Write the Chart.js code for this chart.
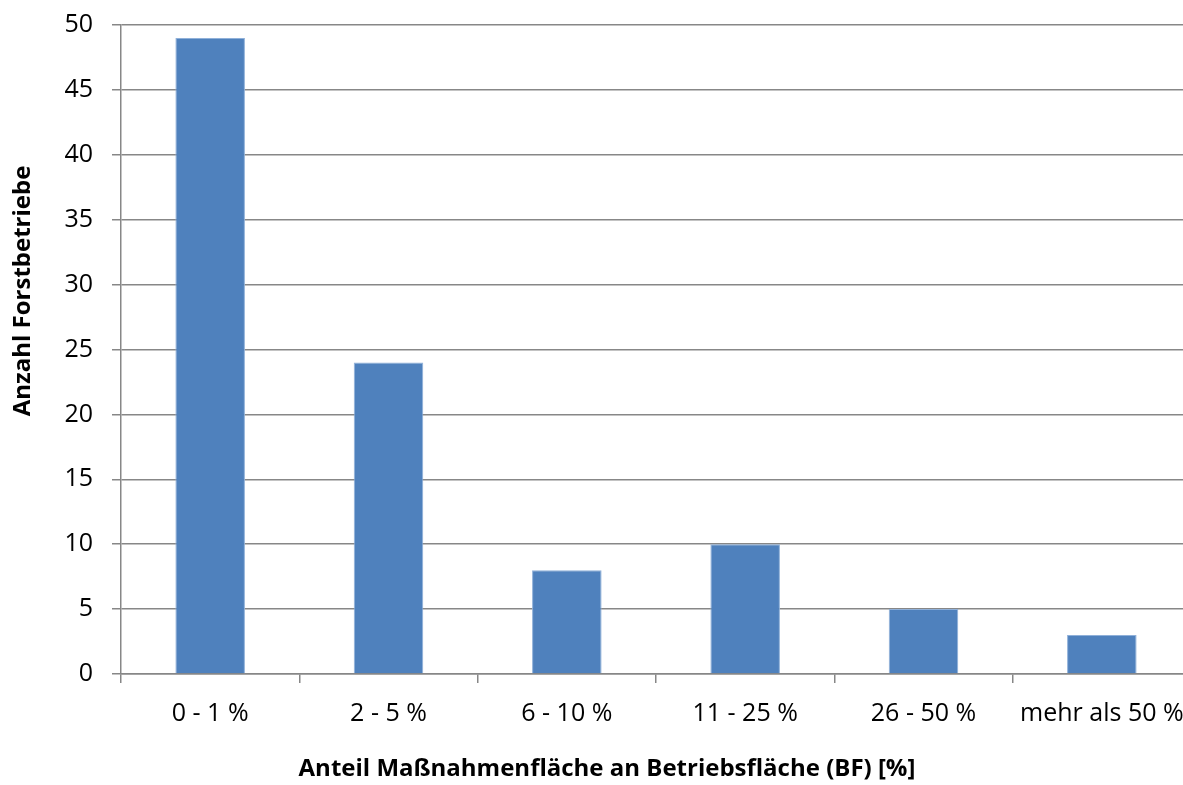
<!DOCTYPE html>
<html>
<head>
<meta charset="utf-8">
<script src="https://cdn.jsdelivr.net/npm/chart.js@4.4.0/dist/chart.umd.min.js"></script>
<style>
  html, body { margin: 0; padding: 0; background: #fff; overflow: hidden; }
  canvas { display: block; }
</style>
</head>
<body>
<!-- die Zeichenfläche ist im Original rechts angeschnitten, daher etwas breiter als das Fenster -->
<canvas id="chart" width="1191" height="785"></canvas>
<script>
// Daten aus dem Diagramm
const kategorien = ['0 - 1 %', '2 - 5 %', '6 - 10 %', '11 - 25 %', '26 - 50 %', 'mehr als 50 %'];
const anzahl = [49, 24, 8, 10, 5, 3];
const yTicks = [0, 5, 10, 15, 20, 25, 30, 35, 40, 45, 50];
const titelX = 'Anteil Maßnahmenfläche an Betriebsfläche (BF) [%]';
const titelY = 'Anzahl Forstbetriebe';

const schrift = "'Open Sans', 'Liberation Sans', sans-serif";
const grau = '#878787';

// Achsentitel wie im Original (nicht mittig auf der Zeichenfläche)
const achsenTitel = {
  id: 'achsenTitel',
  afterDraw(chart) {
    const { ctx, chartArea: a } = chart;
    ctx.save();
    ctx.fillStyle = '#000';
    ctx.font = 'bold 24px ' + schrift;
    ctx.textAlign = 'center';
    ctx.textBaseline = 'middle';
    ctx.fillText(titelX, a.left + 486, a.bottom + 95);
    ctx.translate(23, a.top + 266);
    ctx.rotate(-Math.PI / 2);
    ctx.fillText(titelY, 0, 0);
    ctx.restore();
  }
};

new Chart(document.getElementById('chart'), {
  type: 'bar',
  data: {
    labels: kategorien,
    datasets: [{
      data: anzahl,
      backgroundColor: '#4f81bd',
      borderColor: '#8fb0d9',
      borderWidth: { left: 1, right: 1, top: 1, bottom: 0 },
      barPercentage: 0.39,
      categoryPercentage: 1
    }]
  },
  plugins: [achsenTitel],
  options: {
    responsive: false,
    devicePixelRatio: 1,
    animation: false,
    layout: { padding: { top: 25, right: 0, left: 0, bottom: 0 } },
    plugins: { legend: { display: false }, tooltip: { enabled: false } },
    scales: {
      x: {
        // feste Höhe, kein Zusatzrand für überstehende Beschriftungen
        afterFit: s => { s.height = 111; s.paddingLeft = 0; s.paddingRight = 0; },
        grid: { offset: true, drawOnChartArea: false, color: grau, tickLength: 9, lineWidth: 1.5 },
        border: { color: grau, width: 1.5 },
        ticks: { color: '#000', font: { family: schrift, size: 25 }, padding: 16, maxRotation: 0 }
      },
      y: {
        min: 0,
        max: 50,
        afterFit: s => { s.width = 121; s.paddingTop = 0; s.paddingBottom = 0; },
        afterBuildTicks: s => { s.ticks = yTicks.map(v => ({ value: v })); },
        grid: { color: grau, tickLength: 9, lineWidth: 1.5 },
        border: { color: grau, width: 1.5 },
        ticks: { color: '#000', font: { family: schrift, size: 25 }, padding: 19 }
      }
    }
  }
});
</script>
</body>
</html>
